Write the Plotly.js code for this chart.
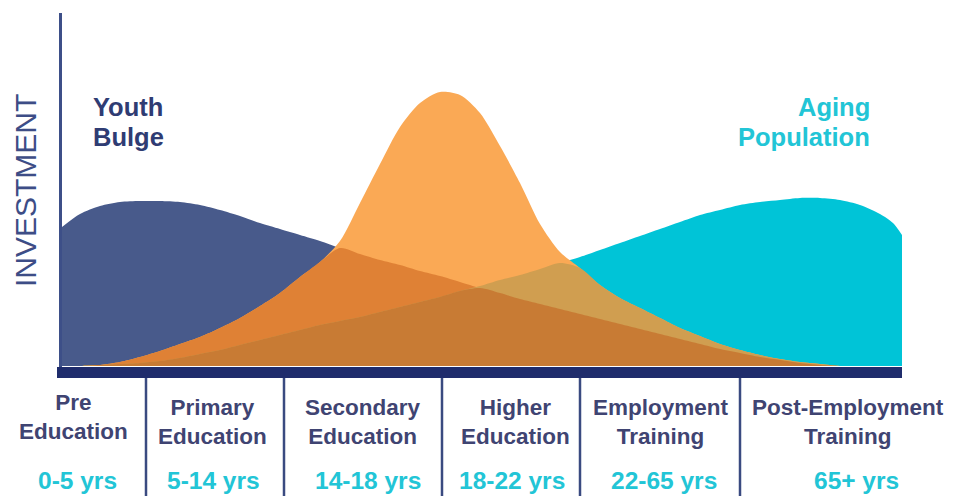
<!DOCTYPE html>
<html>
<head>
<meta charset="utf-8">
<script src="https://cdn.plot.ly/plotly-3.0.1.min.js"></script>
<style>
  html, body { margin: 0; padding: 0; background: #ffffff; }
  #chart { width: 953px; height: 498px; }
</style>
</head>
<body>
<div id="chart"></div>
<script>
// Position along the life course (horizontal scale of the diagram)
const positions = [62, 80, 100, 120, 140, 160, 180, 200, 220, 240, 260, 280, 300, 320, 340, 360, 380, 400, 420, 440, 460, 480, 500, 520, 540, 560, 580, 600, 620, 640, 660, 680, 700, 720, 740, 760, 780, 800, 820, 840, 860, 880, 893, 902];

// Investment curves
const youthBulge = [139, 152, 160, 164, 165, 165, 164, 161, 156, 150, 143, 137, 131, 125, 118, 112, 106, 101, 95, 90, 84, 78, 73, 67, 62, 57, 52, 47, 42, 37, 32, 27, 22, 17, 13, 9, 6, 3, 1, 0, 0, 0, 0, 0];
const educationPeak = [0, 0, 1, 4, 9, 15, 22, 29, 38, 48, 60, 73, 89, 104, 125, 163, 202, 239, 263, 274, 271, 253, 220, 183, 142, 114, 98, 81, 68, 58, 48, 38, 30, 22, 16, 11, 7, 4, 2, 0, 0, 0, 0, 0];
const agingPopulation = [0, 0, 1, 2, 3, 5, 8, 12, 16, 21, 26, 31, 36, 41, 45, 49, 54, 59, 64, 69, 75, 80, 86, 91, 97, 103, 109, 116, 123, 130, 137, 144, 151, 156, 161, 164, 166, 168, 168, 166, 161, 152, 143, 131];

// Stage labels
const stageNames = ['Pre<br>Education', 'Primary<br>Education', 'Secondary<br>Education', 'Higher<br>Education', 'Employment<br>Training', 'Post-Employment<br>Training'];
const stageYears = ['0-5 yrs', '5-14 yrs', '14-18 yrs', '18-22 yrs', '22-65 yrs', '65+ yrs'];
const yAxisTitle = 'INVESTMENT';
const youthLabel = ['Youth', 'Bulge'];
const agingLabel = ['Aging', 'Population'];

// ---------- layout helpers (pixel -> paper) ----------
const W = 953, H = 498, ML = 62, MR = 51, MT = 12, MB = 120;
const PW = W - ML - MR, PH = H - MT - MB;
const px = p => (p - ML) / PW;
const py = p => (H - MB - p) / PH;

const NAVY = '#485a8b', CYAN = '#00c4d7', ORANGE = '#faa955';
const ORANGE_NAVY = '#df8135', ORANGE_CYAN = '#d09e50', ORANGE_ALL = '#c87b34';

const minOf = (...arrs) => positions.map((_, i) => Math.min(...arrs.map(a => a[i])));

function area(y, color) {
  return {
    x: positions, y: y, type: 'scatter', mode: 'lines',
    fill: 'tozeroy', fillcolor: color,
    line: { width: 0, shape: 'spline', smoothing: 0.8, color: color },
    hoverinfo: 'skip', showlegend: false
  };
}

const traces = [
  area(youthBulge, NAVY),
  area(agingPopulation, CYAN),
  area(educationPeak, ORANGE),
  area(minOf(educationPeak, youthBulge), ORANGE_NAVY),
  area(minOf(educationPeak, agingPopulation), ORANGE_CYAN),
  area(minOf(educationPeak, youthBulge, agingPopulation), ORANGE_ALL)
];

const labelFont = { family: 'Liberation Sans, Arial, sans-serif', size: 22.5, color: '#3f4472' };
const yearFont = { family: 'Liberation Sans, Arial, sans-serif', size: 24.5, color: '#22c5d6' };

const stageCenters = [73, 212, 363, 515, 661, 848];
const stageLabelY = [417, 422, 422, 422, 422, 422];
const yearCenters = [77, 213, 368, 512, 664, 856];

const annotations = [];
stageNames.forEach((t, i) => {
  annotations.push({
    xref: 'paper', yref: 'paper', x: px(stageCenters[i]), y: py(stageLabelY[i]),
    xanchor: 'center', yanchor: 'middle', align: 'center', showarrow: false,
    text: '<b>' + t + '</b>', font: labelFont
  });
});
stageYears.forEach((t, i) => {
  annotations.push({
    xref: 'paper', yref: 'paper', x: px(yearCenters[i]), y: py(480),
    xanchor: 'center', yanchor: 'middle', showarrow: false,
    text: '<b>' + t + '</b>', font: yearFont
  });
});
youthLabel.forEach((t, i) => {
  annotations.push({
    xref: 'paper', yref: 'paper', x: px(91), y: py(107 + 30 * i),
    xanchor: 'left', yanchor: 'middle', showarrow: false,
    text: '<b>' + t + '</b>',
    font: { family: 'Liberation Sans, Arial, sans-serif', size: 25.5, color: '#2f3c73' }
  });
});
agingLabel.forEach((t, i) => {
  annotations.push({
    xref: 'paper', yref: 'paper', x: px(872), y: py(107 + 30 * i),
    xanchor: 'right', yanchor: 'middle', showarrow: false,
    text: '<b>' + t + '</b>',
    font: { family: 'Liberation Sans, Arial, sans-serif', size: 25.5, color: '#22c5d6' }
  });
});
annotations.push({
  xref: 'paper', yref: 'paper', x: px(25), y: py(191),
  xanchor: 'center', yanchor: 'middle', showarrow: false, textangle: -90,
  text: yAxisTitle,
  font: { family: 'Liberation Sans, Arial, sans-serif', size: 30, color: '#3d4d86' }
});

const shapes = [
  // vertical axis line
  { type: 'line', xref: 'paper', yref: 'paper', x0: px(60.5), x1: px(60.5), y0: py(13), y1: py(372),
    line: { color: '#3d4f88', width: 3 }, layer: 'above' },
  // thick baseline bar
  { type: 'rect', xref: 'paper', yref: 'paper', x0: px(57), x1: px(902), y0: py(378), y1: py(367),
    fillcolor: '#1f2c6c', line: { width: 0 }, layer: 'above' }
];
[146, 284, 442, 580, 740].forEach(d => {
  shapes.push({ type: 'line', xref: 'paper', yref: 'paper', x0: px(d), x1: px(d), y0: py(378), y1: py(496),
    line: { color: '#3a4a80', width: 2.5 }, layer: 'above' });
});

const layout = {
  width: W, height: H,
  margin: { l: ML, r: MR, t: MT, b: MB, pad: 0 },
  paper_bgcolor: '#ffffff', plot_bgcolor: '#ffffff',
  showlegend: false,
  xaxis: { range: [ML, W - MR], showgrid: false, zeroline: false, showticklabels: false, showline: false, ticks: '', fixedrange: true },
  yaxis: { range: [-12, 354], showgrid: false, zeroline: false, showticklabels: false, showline: false, ticks: '', fixedrange: true },
  annotations: annotations,
  shapes: shapes
};

Plotly.newPlot('chart', traces, layout, { displayModeBar: false, staticPlot: true });
</script>
</body>
</html>
